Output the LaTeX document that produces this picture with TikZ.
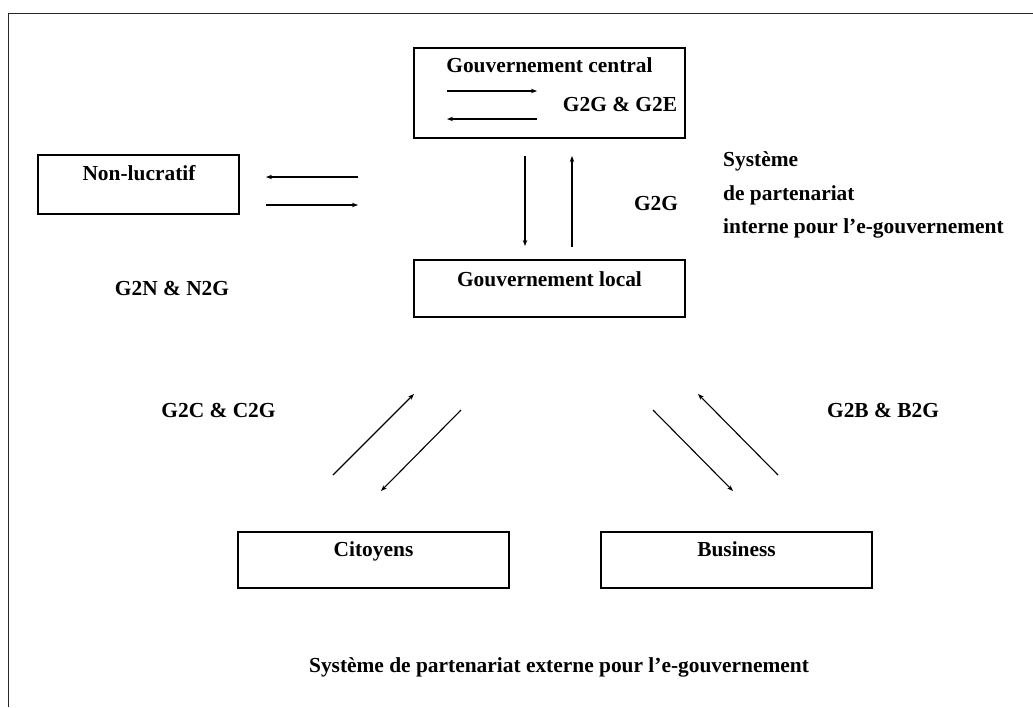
\documentclass[tikz,border=0pt]{standalone}
\usepackage{fontspec}
\setmainfont{Liberation Serif}
\usetikzlibrary{arrows.meta}
\begin{document}
\begin{tikzpicture}[x=1pt,y=-1pt,
  lbl/.style={font=\bfseries\fontsize{21.4}{26}\selectfont, inner sep=0pt, anchor=base},
  boxx/.style={draw, line width=1.5pt, inner sep=0pt},
  flow/.style={line width=1.1pt, -{Stealth[length=6pt,width=4.5pt]}}]
\useasboundingbox (0,0) rectangle (1033,707);
\fill[white] (0,0) rectangle (1033,707);
% outer frame (only left and top visible)
\draw[line width=1.9pt, black!85] (8.5,707) -- (8.5,13.5) -- (1033,13.5);
% boxes
\draw[boxx] (414,48) rectangle (685,138);
\draw[boxx] (414,260) rectangle (685,317);
\draw[boxx] (38,155) rectangle (239,214);
\draw[boxx] (238,532) rectangle (509,588);
\draw[boxx] (601,532) rectangle (872,588);
% box labels
\node[lbl] (gc) at (549.5,72.7) {Gouvernement central};
\node[lbl] (gl) at (549.5,286.7) {Gouvernement local};
\node[lbl] (nl) at (139,180) {Non-lucratif};
\node[lbl] (ci) at (373.5,556.7) {Citoyens};
\node[lbl] (bu) at (736.5,556.7) {Business};
% free labels
\node[lbl] (g2ge) at (620,111) {G2G \& G2E};
\node[lbl] (g2g) at (656,210) {G2G};
\node[lbl] (g2n) at (172,295) {G2N \& N2G};
\node[lbl] (g2c) at (218.5,417.3) {G2C \& C2G};
\node[lbl] (g2b) at (883,417.3) {G2B \& B2G};
\node[lbl, anchor=base west] (si1) at (723,166.7) {Système};
\node[lbl, anchor=base west] (si2) at (723,200) {de partenariat};
\node[lbl, anchor=base west] (si3) at (723,233.3) {interne pour l’e-gouvernement};
\node[lbl] (se) at (559,672) {Système de partenariat externe pour l’e-gouvernement};
% arrow end points
\coordinate (a1s) at (447,91);  \coordinate (a1e) at (537,91);
\coordinate (a2s) at (537,119); \coordinate (a2e) at (447,119);
\coordinate (v1s) at (525,156); \coordinate (v1e) at (525,246);
\coordinate (v2s) at (572,247); \coordinate (v2e) at (572,156);
\coordinate (h1s) at (358,177); \coordinate (h1e) at (266,177);
\coordinate (h2s) at (266,205); \coordinate (h2e) at (358,205);
\coordinate (d1s) at (333,475); \coordinate (d1e) at (414,394);
\coordinate (d2s) at (461,410); \coordinate (d2e) at (381,491);
\coordinate (d3s) at (653,410); \coordinate (d3e) at (733,491);
\coordinate (d4s) at (778,475); \coordinate (d4e) at (698,394);
% arrows
\draw[flow] (a1s) -- (a1e);
\draw[flow] (a2s) -- (a2e);
\draw[flow] (v1s) -- (v1e);
\draw[flow] (v2s) -- (v2e);
\draw[flow] (h1s) -- (h1e);
\draw[flow] (h2s) -- (h2e);
\draw[flow] (d1s) -- (d1e);
\draw[flow] (d2s) -- (d2e);
\draw[flow] (d3s) -- (d3e);
\draw[flow] (d4s) -- (d4e);
\end{tikzpicture}
\end{document}
